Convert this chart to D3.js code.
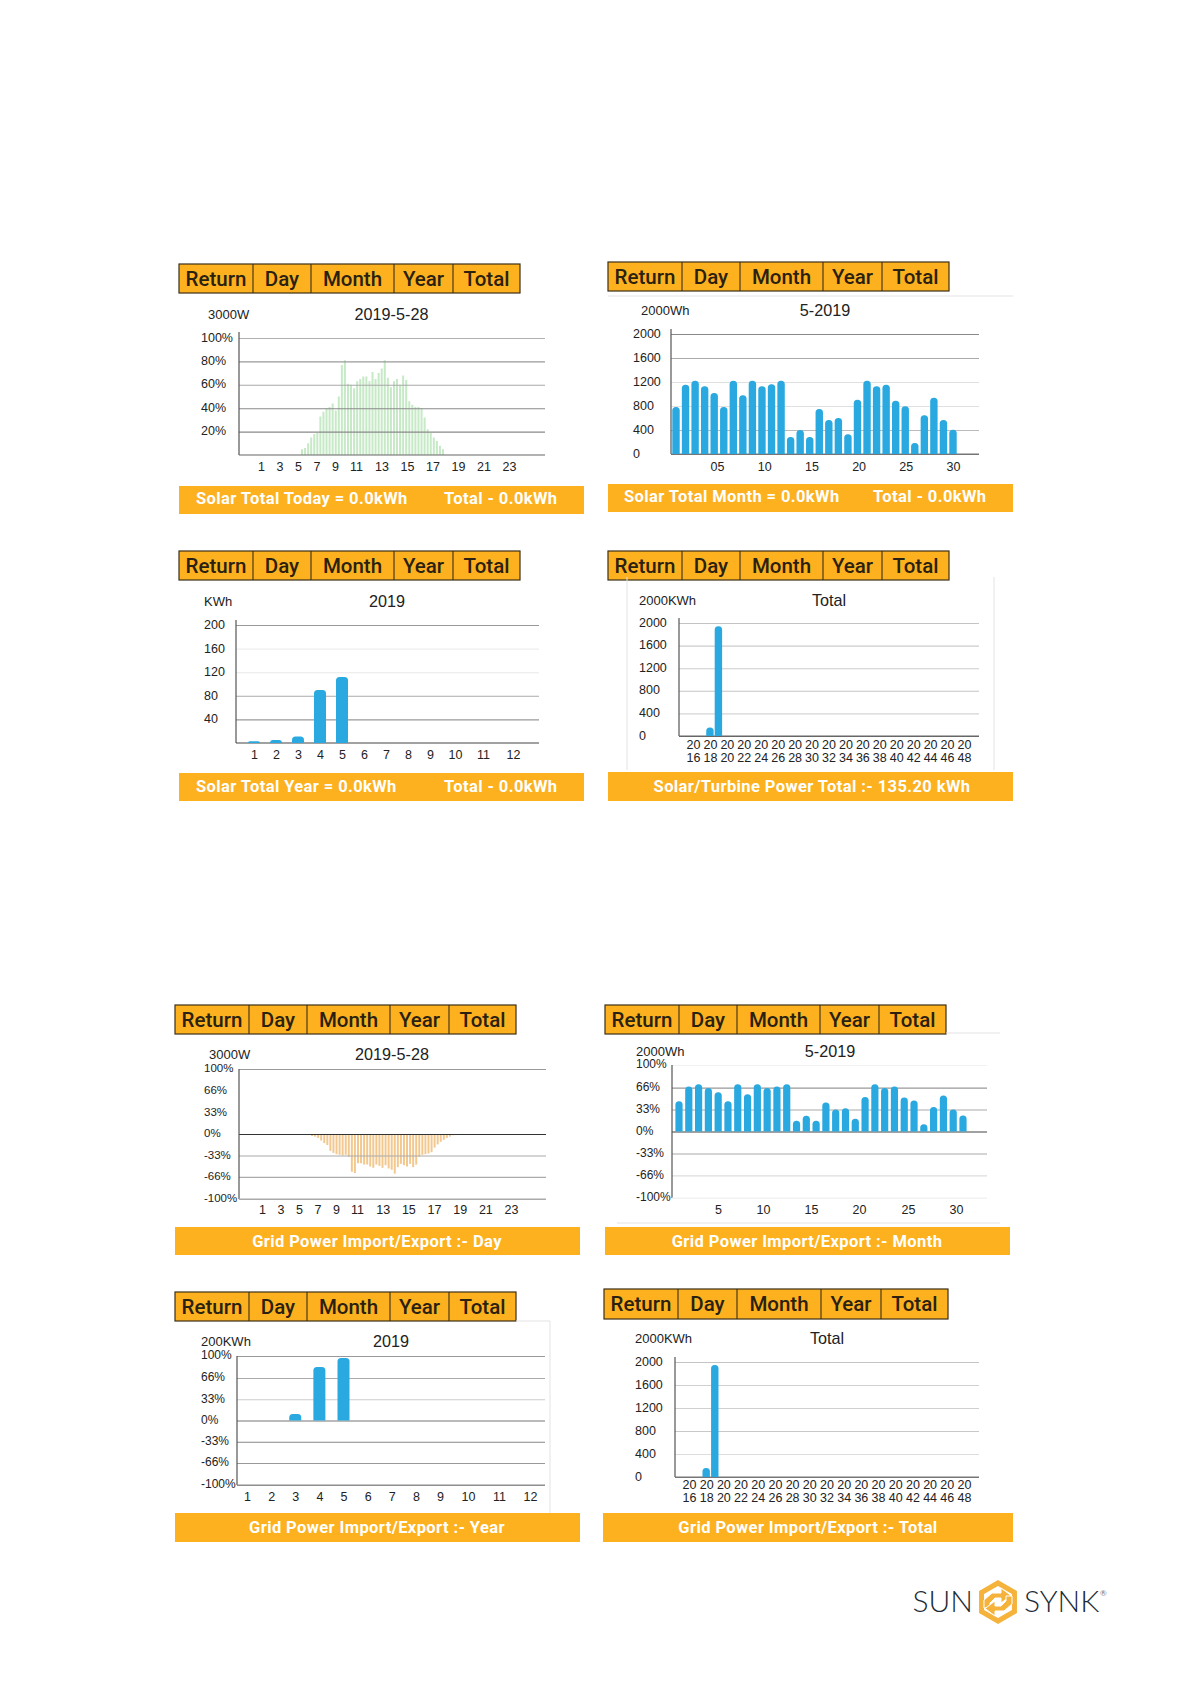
<!DOCTYPE html>
<html>
<head>
<meta charset="utf-8">
<script src="https://cdn.jsdelivr.net/npm/d3@7"></script>
<style>
    body { margin: 0; background: #fff; }
    svg { display: block; }
    .axis text { font-family: "Liberation Sans", Arial, sans-serif; fill: #222; }
</style>
</head>
<body>
<div id="page"></div>
<script>
//Button labels on top of every panel
let buttonLabels = ["Return", "Day", "Month", "Year", "Total"];

//Tick labels
let dayTicks = [1, 3, 5, 7, 9, 11, 13, 15, 17, 19, 21, 23];
let monthTicksSolar = [5, 10, 15, 20, 25, 30];
let yearTicks = [1, 2, 3, 4, 5, 6, 7, 8, 9, 10, 11, 12];
let totalTicks = [2016, 2018, 2020, 2022, 2024, 2026, 2028, 2030, 2032, 2034, 2036, 2038, 2040, 2042, 2044, 2046, 2048];
let percentSolarTicks = [100, 80, 60, 40, 20];
let percentGridTicks = [100, 66, 33, 0, -33, -66, -100];
let powerTicks = [2000, 1600, 1200, 800, 400, 0];
let yearPowerTicks = [200, 160, 120, 80, 40];

//Solar day chart, percent of 3000W, one thin bar per sample
let solarDay = [5, 6, 10, 15, 18, 19, 33, 37, 40, 41, 44, 38, 50, 77, 81, 61, 60, 57, 63, 65, 67, 67, 63, 71,
    65, 70, 74, 81, 66, 58, 63, 65, 60, 68, 64, 46, 43, 41, 41, 40, 32, 22, 19, 15, 12, 8, 5];

//Solar month chart, Wh per day
let monthDays = [1, 2, 3, 4, 5, 6, 7, 8, 9, 10, 11, 12, 13, 14, 15, 16, 17, 18, 19, 20, 21, 22, 23, 24, 25, 26, 27, 28, 29, 30];
let solarMonth = [783, 1155, 1222, 1128, 1017, 783, 1222, 978, 1222, 1128, 1161, 1222, 283, 400, 283, 750, 567, 600, 328, 906,
    1222, 1128, 1155, 889, 794, 183, 644, 939, 567, 406];

//Solar year chart, kWh per month
let solarYearMonths = [1, 2, 3, 4, 5];
let solarYear = [3, 5, 11, 90, 112];

//Solar total chart, kWh per year
let solarTotalYears = [2018, 2019];
let solarTotal = [152, 1941];

//Grid day chart, percent (export is negative)
let gridDay = [-3, -4, -6, -10, -14, -17, -26, -29, -31, -32, -33, -32, -35, -58, -60, -45, -45, -47, -47, -50, -52, -47, -49, -52,
    -48, -53, -55, -61, -51, -46, -48, -50, -46, -51, -47, -35, -32, -31, -30, -28, -21, -16, -12, -9, -6, -4, -2];

//Grid month chart, percent per day
let gridMonth = [45.5, 67.5, 71, 65.5, 59, 45.5, 71, 56, 71, 65.5, 67.5, 71, 16, 23.5, 16, 43.5, 33, 35, 19, 52,
    71, 65.5, 67.5, 51, 46.5, 11, 37, 54, 33, 24];

//Grid year chart, percent per month
let gridYearMonths = [3, 4, 5];
let gridYear = [10, 83, 97];

//Grid total chart, kWh per year
let gridTotalYears = [2018, 2019];
let gridTotal = [157, 1948];

const orange = "#fdb11f";
const blue = "#29a9e0";
const percentFormat = function(d) { return d + "%"; };

let svg = d3.select("#page").append("svg")
    .attr("width", 1191)
    .attr("height", 1684);

//Bar with rounded top and flat bottom
function barPath(x, w, yTop, yBase, r) {
    let h = yBase - yTop;
    r = Math.min(r, h, w / 2);
    let p = d3.path();
    p.moveTo(x - w / 2, yBase);
    p.lineTo(x - w / 2, yTop + r);
    p.quadraticCurveTo(x - w / 2, yTop, x - w / 2 + r, yTop);
    p.lineTo(x + w / 2 - r, yTop);
    p.quadraticCurveTo(x + w / 2, yTop, x + w / 2, yTop + r);
    p.lineTo(x + w / 2, yBase);
    p.closePath();
    return p.toString();
}

//Row of orange buttons
function drawButtons(b) {
    let g = svg.append("g");
    g.append("rect")
        .attr("x", b.left).attr("y", b.top)
        .attr("width", b.right - b.left).attr("height", b.bottom - b.top)
        .attr("fill", orange).attr("stroke", "#3b2f17").attr("stroke-width", 1.2);

    let edges = [b.left].concat(b.dividers, [b.right]);
    g.selectAll("line")
        .data(b.dividers)
        .enter().append("line")
        .attr("x1", function(d) { return d; }).attr("x2", function(d) { return d; })
        .attr("y1", b.top).attr("y2", b.bottom)
        .attr("stroke", "#3b2f17").attr("stroke-width", 1.1);

    g.selectAll("text")
        .data(buttonLabels)
        .enter().append("text")
        .attr("x", function(d, i) { return (edges[i] + edges[i + 1]) / 2; })
        .attr("y", (b.top + b.bottom) / 2)
        .attr("dy", ".36em")
        .attr("text-anchor", "middle")
        .style("font", "500 20.5px Roboto, sans-serif")
        .style("fill", "#2a2110")
        .text(function(d) { return d; });
}

//Orange strip under the chart
function drawFooter(f) {
    svg.append("rect")
        .attr("x", f.left).attr("y", f.top)
        .attr("width", f.right - f.left).attr("height", f.bottom - f.top)
        .attr("fill", orange);

    f.texts.forEach(function(t) {
        svg.append("text")
            .attr("x", t.x)
            .attr("y", (f.top + f.bottom) / 2 + (f.textShift || 0))
            .attr("dy", ".36em")
            .attr("text-anchor", t.anchor)
            .style("font", "700 16.5px Roboto, sans-serif")
            .style("letter-spacing", "0.4px")
            .style("fill", "#fff")
            .text(t.label);
    });
}

//Chart inside one panel
function drawChart(c) {
    let y = d3.scaleLinear().domain(c.yDomain).range([c.bottom, c.top]);
    let labelSize = c.labelSize || 12.5;

    //unit and title
    svg.append("text")
        .attr("x", c.unitX).attr("y", c.headY).attr("dy", ".3em")
        .style("font", "13px 'Liberation Sans', Arial, sans-serif")
        .style("fill", "#222")
        .text(c.unit);
    svg.append("text")
        .attr("x", c.titleX).attr("y", c.headY).attr("dy", ".3em")
        .attr("text-anchor", "middle")
        .style("font", "16.2px 'Liberation Sans', Arial, sans-serif")
        .style("fill", "#222")
        .text(c.title);

    let bars = function() {
        svg.append("g").selectAll("path")
            .data(c.barValues)
            .enter().append("path")
            .attr("fill", c.barColor)
            .attr("d", function(d, i) {
                if (d < 0) {
                    return "M" + (c.barX(c.barKeys[i]) - c.barWidth / 2) + "," + y(0) + "h" + c.barWidth + "V" + y(d) + "h" + (-c.barWidth) + "Z";
                }
                return barPath(c.barX(c.barKeys[i]), c.barWidth, y(d), y(0), c.barRadius);
            });
    };

    //thin day bars sit under the grid lines, the others on top
    if (c.barsUnderGrid) bars();

    //y axis with grid lines
    let yAxis = d3.axisLeft(y)
        .tickValues(c.yTicks)
        .tickSize(-(c.right - c.left))
        .tickPadding(0)
        .tickFormat(c.yFormat || d3.format("d"));

    let yG = svg.append("g")
        .attr("class", "axis")
        .attr("transform", "translate(" + c.left + ",0)")
        .call(yAxis);
    yG.select(".domain").remove();
    yG.selectAll(".tick line")
        .attr("stroke", function(d, i) { return c.gridColors[i]; })
        .attr("stroke-width", 1.1);
    yG.selectAll(".tick text")
        .attr("x", c.yLabelX - c.left)
        .attr("dy", (0.32 + c.labelDy / labelSize) + "em")
        .attr("text-anchor", "start")
        .style("font-size", labelSize + "px");

    //left axis line and baseline
    svg.append("line")
        .attr("x1", c.left).attr("x2", c.left)
        .attr("y1", c.axisTop)
        .attr("y2", c.bottom)
        .attr("stroke", "#555").attr("stroke-width", 1.2);
    svg.append("line")
        .attr("x1", c.left).attr("x2", c.right)
        .attr("y1", y(c.yDomain[0])).attr("y2", y(c.yDomain[0]))
        .attr("stroke", c.baseColor).attr("stroke-width", 1.2);

    if (!c.barsUnderGrid) bars();

    //x axis, only labels
    let xAxis = d3.axisBottom(c.tickX)
        .tickValues(c.xTicks)
        .tickSize(0)
        .tickPadding(0)
        .tickFormat(c.xFormat || d3.format("d"));

    let xG = svg.append("g")
        .attr("class", "axis")
        .attr("transform", "translate(0," + c.xLabelY + ")")
        .call(xAxis);
    xG.select(".domain").remove();
    xG.selectAll(".tick text")
        .attr("y", 0)
        .attr("dy", ".3em")
        .style("font-size", "12.5px");

    //years are written on two lines: 20 / 16
    if (c.twoLine) {
        xG.selectAll(".tick text").each(function(d) {
            let t = d3.select(this).text(null).attr("dy", null);
            t.append("tspan").attr("x", 0).attr("y", 0).attr("dy", ".3em").text(String(d).slice(0, 2));
            t.append("tspan").attr("x", 0).attr("y", 13).attr("dy", ".3em").text(String(d).slice(2));
        });
    }
}

//The extra thin frame lines of the panels
function drawFaintLine(x1, y1, x2, y2) {
    svg.append("line")
        .attr("x1", x1).attr("y1", y1).attr("x2", x2).attr("y2", y2)
        .attr("stroke", "#e3e3e3").attr("stroke-width", 1);
}

//Panel 1: solar day
drawButtons({ left: 179, right: 520, top: 264, bottom: 293, dividers: [253, 311, 394, 453] });
drawChart({
    left: 239, right: 545, top: 338, bottom: 455, axisTop: 332, yDomain: [0, 100],
    unit: "3000W", unitX: 208, title: "2019-5-28", titleX: 391.5, headY: 315,
    yTicks: percentSolarTicks, yFormat: percentFormat, yLabelX: 201, labelDy: -1,
    gridColors: ["#b0b0b0", "#9a9a9a", "#a8a8a8", "#8a8a8a", "#8a8a8a"], baseColor: "#666",
    barKeys: d3.range(solarDay.length), barValues: solarDay, barColor: "#c6e9c6", barWidth: 2, barRadius: 0, barsUnderGrid: true,
    barX: d3.scaleLinear().domain([0, solarDay.length - 1]).range([302, 443]),
    xTicks: dayTicks, xLabelY: 467,
    tickX: d3.scaleLinear().domain([1, 9, 11, 23]).range([261, 335, 356, 509])
});
drawFooter({ left: 179, right: 584, top: 486, bottom: 514, textShift: -1.5, texts: [
    { label: "Solar Total Today = 0.0kWh", x: 196, anchor: "start" },
    { label: "Total - 0.0kWh", x: 444, anchor: "start" }
] });

//Panel 2: solar month
drawButtons({ left: 608, right: 949, top: 262, bottom: 291, dividers: [682, 740, 823, 882] });
drawFaintLine(608, 296, 1013, 296);
drawChart({
    left: 671, right: 979, top: 334, bottom: 454, axisTop: 329, yDomain: [0, 2000],
    unit: "2000Wh", unitX: 641, title: "5-2019", titleX: 825, headY: 311,
    yTicks: powerTicks, yLabelX: 633, labelDy: -1,
    gridColors: ["#888", "#aaa", "#e0e0e0", "#e0e0e0", "#bbb", "#777"], baseColor: "#777",
    barKeys: monthDays, barValues: solarMonth, barColor: blue, barWidth: 7.4, barRadius: 3.5,
    barX: d3.scaleLinear().domain([1, 30]).range([676, 953]),
    xTicks: monthTicksSolar, xFormat: d3.format("02d"), xLabelY: 467,
    tickX: d3.scaleLinear().domain([5, 30]).range([717, 953])
});
drawFooter({ left: 608, right: 1013, top: 484, bottom: 512, textShift: -1.5, texts: [
    { label: "Solar Total Month = 0.0kWh", x: 624, anchor: "start" },
    { label: "Total - 0.0kWh", x: 873, anchor: "start" }
] });

//Panel 3: solar year
drawButtons({ left: 179, right: 520, top: 551, bottom: 580, dividers: [253, 311, 394, 453] });
let solarYearX = d3.scaleLinear().domain([1, 9, 10, 11, 12]).range([254, 430, 455, 483, 513]);
drawChart({
    left: 236, right: 539, top: 625, bottom: 743, axisTop: 620, yDomain: [0, 200],
    unit: "KWh", unitX: 204, title: "2019", titleX: 387, headY: 602,
    yTicks: yearPowerTicks, yLabelX: 204, labelDy: -0.5,
    gridColors: ["#999", "#eee", "#e8e8e8", "#aaa", "#999"], baseColor: "#444",
    barKeys: solarYearMonths, barValues: solarYear, barColor: blue, barWidth: 12, barRadius: 3.5,
    barX: solarYearX,
    xTicks: yearTicks, xLabelY: 755,
    tickX: solarYearX
});
drawFooter({ left: 179, right: 584, top: 773, bottom: 801, textShift: -1, texts: [
    { label: "Solar Total Year = 0.0kWh", x: 196, anchor: "start" },
    { label: "Total - 0.0kWh", x: 444, anchor: "start" }
] });

//Panel 4: solar total
drawButtons({ left: 608, right: 949, top: 551, bottom: 580, dividers: [682, 740, 823, 882] });
drawFaintLine(627, 577, 627, 770);
drawFaintLine(994, 577, 994, 770);
let solarTotalX = d3.scaleLinear().domain([2016, 2048]).range([693, 964]);
drawChart({
    left: 679, right: 979, top: 623, bottom: 736, axisTop: 618, yDomain: [0, 2000],
    unit: "2000KWh", unitX: 639, title: "Total", titleX: 829, headY: 601,
    yTicks: powerTicks, yLabelX: 639, labelDy: -1,
    gridColors: ["#c4c4c4", "#ccc", "#ccc", "#c4c4c4", "#d4d4d4", "#666"], baseColor: "#666",
    barKeys: solarTotalYears, barValues: solarTotal, barColor: blue, barWidth: 7.4, barRadius: 3.5,
    barX: solarTotalX,
    xTicks: totalTicks, twoLine: true, xLabelY: 745,
    tickX: solarTotalX
});
drawFooter({ left: 608, right: 1013, top: 772, bottom: 801, texts: [
    { label: "Solar/Turbine Power Total :- 135.20 kWh", x: 812, anchor: "middle" }
] });

//Panel 5: grid day
drawButtons({ left: 175, right: 516, top: 1005, bottom: 1034, dividers: [249, 307, 390, 449] });
drawChart({
    left: 239, right: 546, top: 1069, bottom: 1199, axisTop: 1069, yDomain: [-100, 100],
    unit: "3000W", unitX: 209, title: "2019-5-28", titleX: 392, headY: 1055,
    yTicks: percentGridTicks, yFormat: percentFormat, yLabelX: 204, labelDy: -1, labelSize: 11.5,
    gridColors: ["#999", "none", "none", "#333", "#aaa", "#aaa", "#aaa"], baseColor: "#aaa",
    barKeys: d3.range(gridDay.length), barValues: gridDay, barColor: "#f3c88e", barWidth: 2, barRadius: 0, barsUnderGrid: true,
    barX: d3.scaleLinear().domain([0, gridDay.length - 1]).range([312, 453]),
    xTicks: dayTicks, xLabelY: 1210,
    tickX: d3.scaleLinear().domain([1, 9, 11, 23]).range([262, 336, 357, 511])
});
drawFooter({ left: 175, right: 580, top: 1227, bottom: 1255, texts: [
    { label: "Grid Power Import/Export :- Day", x: 377, anchor: "middle" }
] });

//Panel 6: grid month
drawButtons({ left: 605, right: 946, top: 1005, bottom: 1034, dividers: [679, 737, 820, 879] });
drawFaintLine(946, 1033, 1000, 1033);
drawFaintLine(617, 1223, 1000, 1223);
drawChart({
    left: 672, right: 987, top: 1065, bottom: 1198, axisTop: 1065, yDomain: [-100, 100],
    unit: "2000Wh", unitX: 636, title: "5-2019", titleX: 830, headY: 1052,
    yTicks: percentGridTicks, yFormat: percentFormat, yLabelX: 636, labelDy: -1, labelSize: 12,
    gridColors: ["#f2f2f2", "#999", "#aaa", "#444", "#aaa", "#ddd", "#f2f2f2"], baseColor: "#f2f2f2",
    barKeys: monthDays, barValues: gridMonth, barColor: blue, barWidth: 7.2, barRadius: 3.5,
    barX: d3.scaleLinear().domain([1, 30]).range([679, 963]),
    xTicks: monthTicksSolar, xLabelY: 1210,
    tickX: d3.scaleLinear().domain([5, 10, 15, 20, 25, 30]).range([718, 763, 811, 859, 908, 956])
});
drawFooter({ left: 605, right: 1010, top: 1227, bottom: 1255, texts: [
    { label: "Grid Power Import/Export :- Month", x: 807, anchor: "middle" }
] });

//Panel 7: grid year
drawButtons({ left: 175, right: 516, top: 1292, bottom: 1321, dividers: [249, 307, 390, 449] });
drawFaintLine(516, 1321, 550, 1321);
drawFaintLine(550, 1321, 550, 1513);
let gridYearX = d3.scaleLinear().domain([1, 9, 10, 11, 12]).range([247, 440, 468, 499, 530]);
drawChart({
    left: 237, right: 545, top: 1356, bottom: 1485, axisTop: 1356, yDomain: [-100, 100],
    unit: "200KWh", unitX: 201, title: "2019", titleX: 391, headY: 1342,
    yTicks: percentGridTicks, yFormat: percentFormat, yLabelX: 201, labelDy: -1, labelSize: 12,
    gridColors: ["#999", "#aaa", "#ccc", "#777", "#888", "#999", "#999"], baseColor: "#888",
    barKeys: gridYearMonths, barValues: gridYear, barColor: blue, barWidth: 12, barRadius: 3.5,
    barX: gridYearX,
    xTicks: yearTicks, xLabelY: 1497,
    tickX: gridYearX
});
drawFooter({ left: 175, right: 580, top: 1513, bottom: 1542, texts: [
    { label: "Grid Power Import/Export :- Year", x: 377, anchor: "middle" }
] });

//Panel 8: grid total
drawButtons({ left: 604, right: 948, top: 1289, bottom: 1319, dividers: [678, 737, 821, 881] });
let gridTotalX = d3.scaleLinear().domain([2016, 2048]).range([689, 964]);
drawChart({
    left: 675, right: 979, top: 1362, bottom: 1477, axisTop: 1357, yDomain: [0, 2000],
    unit: "2000KWh", unitX: 635, title: "Total", titleX: 827, headY: 1339,
    yTicks: powerTicks, yLabelX: 635, labelDy: -1,
    gridColors: ["#c4c4c4", "#d0d0d0", "#d0d0d0", "#c8c8c8", "#ddd", "#777"], baseColor: "#777",
    barKeys: gridTotalYears, barValues: gridTotal, barColor: blue, barWidth: 7.4, barRadius: 3.5,
    barX: gridTotalX,
    xTicks: totalTicks, twoLine: true, xLabelY: 1485,
    tickX: gridTotalX
});
drawFooter({ left: 603, right: 1013, top: 1513, bottom: 1542, texts: [
    { label: "Grid Power Import/Export :- Total", x: 808, anchor: "middle" }
] });

//Logo in the corner
let logo = svg.append("g").attr("transform", "translate(998,1602)");
let hexLine = d3.line();
let hexR = 19;
logo.append("path")
    .attr("d", hexLine([0, 1, 2, 3, 4, 5].map(function(i) {
        let a = Math.PI / 3 * i - Math.PI / 2;
        return [hexR * Math.cos(a), hexR * Math.sin(a)];
    })) + "Z")
    .attr("fill", "none")
    .attr("stroke", "#f5b33c")
    .attr("stroke-width", 5);
let arrowShape = [[-14, 6], [-14, -2], [-6, -9], [3, -9], [3, -14], [13, -6.5], [3, 1], [3, -4], [-3, -4], [-8, 1], [-8, 6]];
[0, 180].forEach(function(angle) {
    logo.append("path")
        .attr("transform", "rotate(" + angle + ")")
        .attr("d", hexLine(arrowShape) + "Z")
        .attr("fill", "#f5b33c")
        .attr("stroke", "#fff")
        .attr("stroke-width", 1);
});
svg.append("text")
    .attr("x", 973).attr("y", 1612)
    .attr("text-anchor", "end")
    .style("font", "300 30px Lato, sans-serif")
    .style("fill", "#1d2b36")
    .text("SUN");
svg.append("text")
    .attr("x", 1024).attr("y", 1612)
    .style("font", "300 30px Lato, sans-serif")
    .style("fill", "#1d2b36")
    .text("SYNK");
svg.append("text")
    .attr("x", 1100).attr("y", 1596)
    .style("font", "8px Lato, sans-serif")
    .style("fill", "#777")
    .text("®");
</script>
</body>
</html>
